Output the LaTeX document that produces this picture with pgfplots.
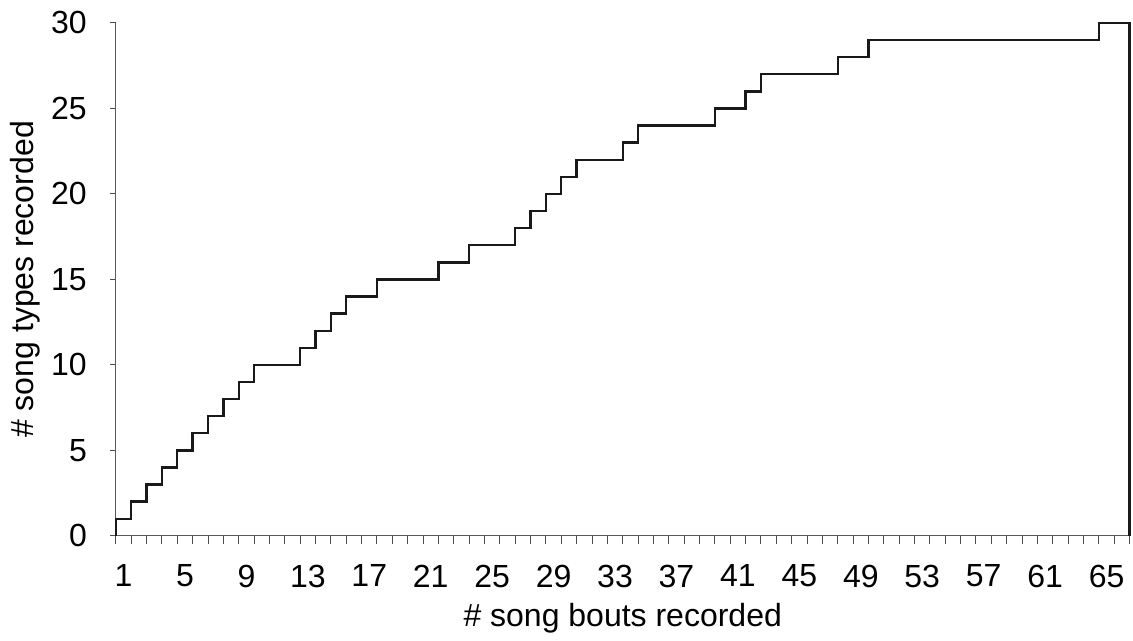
\documentclass[border=0pt]{standalone}
\usepackage{fontspec}
\setmainfont{Liberation Sans}
\usepackage{pgfplots}
\pgfplotsset{compat=1.18}
\begin{document}
\begin{tikzpicture}[font=\fontsize{16}{19}\selectfont]
\begin{axis}[
  scale only axis, width=507pt, height=256.5pt,
  xmin=0, xmax=66, ymin=0, ymax=30,
  clip=false,
  axis x line=bottom, axis y line=left,
  axis line style={-, draw=black!65, line width=0.6pt},
  xtick={0.5,4.5,8.5,12.5,16.5,20.5,24.5,28.5,32.5,36.5,40.5,44.5,48.5,52.5,56.5,60.5,64.5},
  xticklabels={1,5,9,13,17,21,25,29,33,37,41,45,49,53,57,61,65},
  major x tick style={draw=none},
  minor xtick={0,1,...,66},
  minor x tick style={draw=black!70, line width=0.5pt},
  ytick={0,5,10,15,20,25,30},
  y tick style={draw=black!70, line width=0.5pt},
  tick align=outside,
  major tick length=3pt, minor tick length=4pt,
  /pgf/number format/assume math mode=true,
  xticklabel style={yshift=-8pt},
  yticklabel style={xshift=-8pt},
  xlabel={\# song bouts recorded},
  ylabel={\# song types recorded},
  xlabel style={yshift=-1pt},
  ylabel style={yshift=-1.5pt},
]
\addplot[const plot mark left, draw=black!90, line width=1.2pt] coordinates {
(0,0) (0,1) (1,2) (2,3) (3,4) (4,5) (5,6) (6,7) (7,8) (8,9) (9,10) (10,10) (11,10)
(12,11) (13,12) (14,13) (15,14) (16,14) (17,15) (18,15) (19,15) (20,15) (21,16) (22,16)
(23,17) (24,17) (25,17) (26,18) (27,19) (28,20) (29,21) (30,22) (31,22) (32,22) (33,23)
(34,24) (35,24) (36,24) (37,24) (38,24) (39,25) (40,25) (41,26) (42,27) (43,27) (44,27)
(45,27) (46,27) (47,28) (48,28) (49,29) (50,29) (51,29) (52,29) (53,29) (54,29) (55,29)
(56,29) (57,29) (58,29) (59,29) (60,29) (61,29) (62,29) (63,29) (64,30) (65,30) (66,30) (66,0)
};
\end{axis}
\path ([xshift=-2pt]current bounding box.west);
\path ([xshift=1pt]current bounding box.east);
\path ([yshift=-0.5pt]current bounding box.south);
\path ([yshift=2.5pt]current bounding box.north);
\end{tikzpicture}
\end{document}
